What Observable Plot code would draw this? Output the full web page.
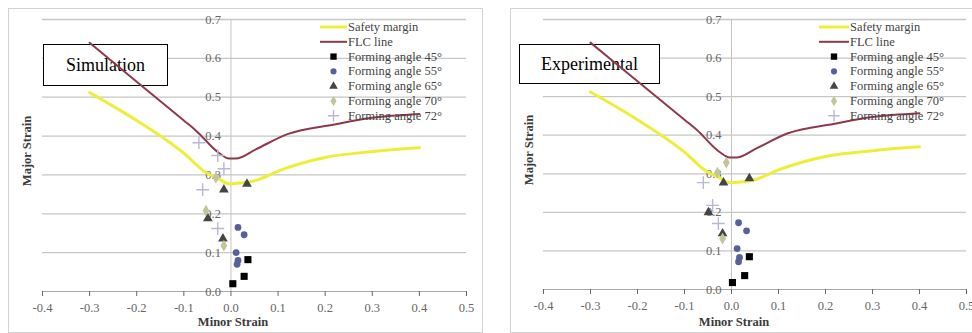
<!DOCTYPE html>
<html><head><meta charset="utf-8">
<script src="https://cdn.jsdelivr.net/npm/d3@7"></script>
<script src="https://cdn.jsdelivr.net/npm/@observablehq/plot@0.6"></script>
<style>
html,body{margin:0;padding:0;background:#fff;width:972px;height:333px;overflow:hidden;}
.panel{position:absolute;top:8px;height:325px;}
.frame{position:absolute;left:0;top:0;right:0;bottom:0;border:1px solid #d2d2d2;background:#fff;box-sizing:border-box;}
.layer{position:absolute;left:0;top:0;}
.box{position:absolute;border:1px solid #000;background:#fff;box-sizing:border-box;font-family:"Liberation Serif","DejaVu Serif","Times New Roman",serif;font-size:18px;display:flex;align-items:center;justify-content:center;color:#000;}
.xlab{position:absolute;font-weight:bold;font-size:12.5px;font-family:"Liberation Serif","DejaVu Serif","Times New Roman",serif;color:#3a3a3a;white-space:nowrap;transform:translate(-50%,-50%);}
.ylab{position:absolute;font-weight:bold;font-size:12.5px;font-family:"Liberation Serif","DejaVu Serif","Times New Roman",serif;color:#3a3a3a;white-space:nowrap;transform:translate(-50%,-50%) rotate(-90deg);}
.legend{position:absolute;}
</style>
</head><body>
<script>
// ---------- data ----------
const xTicks = [-0.4, -0.3, -0.2, -0.1, 0.0, 0.1, 0.2, 0.3, 0.4, 0.5];
const yTicks = [0.0, 0.1, 0.2, 0.3, 0.4, 0.5, 0.6, 0.7];
const yGrid = [0.1, 0.2, 0.3, 0.4, 0.5, 0.6, 0.7];

const flcMinor = [-0.3, -0.2, -0.1, -0.074, -0.026, -0.004, 0.01, 0.053, 0.12, 0.22, 0.30, 0.40];
const flcMajor = [0.64, 0.54, 0.44, 0.414, 0.357, 0.342, 0.342, 0.366, 0.405, 0.43, 0.447, 0.457];
const safetyMinor = [-0.3, -0.2, -0.1, -0.053, -0.026, -0.004, 0.02, 0.053, 0.1, 0.2, 0.3, 0.4];
const safetyMajor = [0.512, 0.44, 0.356, 0.306, 0.29, 0.277, 0.279, 0.286, 0.31, 0.345, 0.36, 0.37];

const seriesNames = ["Forming angle 45°", "Forming angle 55°", "Forming angle 65°", "Forming angle 70°", "Forming angle 72°"];

// Simulation panel [minor, major]
const sim45 = [[0.004, 0.02], [0.028, 0.039], [0.036, 0.082]];
const sim55 = [[0.015, 0.165], [0.028, 0.146], [0.011, 0.10], [0.015, 0.08], [0.013, 0.07]];
const sim65 = [[-0.015, 0.262], [0.034, 0.277], [-0.017, 0.136], [-0.049, 0.188]];
const sim70 = [[-0.032, 0.293], [-0.053, 0.208], [-0.015, 0.118]];
const sim72 = [[-0.068, 0.383], [-0.028, 0.35], [-0.06, 0.262], [-0.028, 0.162], [-0.015, 0.316]];

// Experimental panel [minor, major]
const exp45 = [[0.002, 0.018], [0.028, 0.036], [0.038, 0.085]];
const exp55 = [[0.015, 0.173], [0.032, 0.152], [0.012, 0.106], [0.017, 0.083], [0.015, 0.072]];
const exp65 = [[-0.017, 0.277], [0.038, 0.288], [-0.019, 0.145], [-0.049, 0.2]];
const exp70 = [[-0.011, 0.329], [-0.03, 0.303], [-0.019, 0.132]];
const exp72 = [[-0.06, 0.277], [-0.028, 0.171], [-0.04, 0.218]];

// ---------- styles ----------
const SAFETY = "#eeee3a", FLC = "#8c3a4a";
const seriesStyle = [
  {symbol: "square", fill: "#000000", r: 4},
  {symbol: "circle", fill: "#56609a", r: 3.4},
  {symbol: "triangle", fill: "#454545", r: 3.6},
  {symbol: "diamond", fill: "#c2c49a", r: 3.6},
  {symbol: "plus", stroke: "#bcb6d6", r: 4.2, strokeWidth: 1.4}
];
const FONT = "'Liberation Serif','DejaVu Serif','Times New Roman',serif";

const flc = d3.zip(flcMinor, flcMajor);
const safety = d3.zip(safetyMinor, safetyMajor);

function panel(cfg) {
  const wrap = document.createElement("div");
  wrap.className = "panel";
  wrap.style.left = cfg.left + "px";
  wrap.style.width = cfg.W + "px";
  document.body.appendChild(wrap);
  const frame = document.createElement("div");
  frame.className = "frame";
  wrap.appendChild(frame);

  const dims = {
    width: cfg.W, height: 325,
    marginLeft: cfg.m.l, marginRight: cfg.m.r, marginTop: cfg.m.t, marginBottom: cfg.m.b
  };

  const A = Plot.plot({
    ...dims,
    x: {domain: [-0.4, 0.5]},
    y: {domain: [0, 0.7], axis: null},
    style: {background: "transparent", fontFamily: FONT, fontSize: "12.5px", overflow: "visible"},
    marks: [
      Plot.ruleY(yGrid, {stroke: "#c6c6c6", strokeWidth: 1.3}),
      Plot.ruleX([0], {stroke: "#c4c4c4"}),
      Plot.ruleY([0], {stroke: "#a8a8a8"}),
      Plot.axisX(xTicks, {tickSize: 5, tickPadding: 7, tickFormat: d => d.toFixed(1), color: "#666", fontSize: 12.5, fontFamily: FONT, label: null}),
      Plot.text(yTicks, {x: 0, y: d => d, text: d => d.toFixed(1), textAnchor: "end", dx: -10, fill: "#666", fontSize: 12.5, fontFamily: FONT})
    ]
  });
  A.classList.add("layer");
  wrap.appendChild(A);

  const box = document.createElement("div");
  box.className = "box";
  box.style.left = cfg.box[0] + "px";
  box.style.top = cfg.box[1] + "px";
  box.style.width = cfg.box[2] + "px";
  box.style.height = cfg.box[3] + "px";
  box.textContent = cfg.title;
  wrap.appendChild(box);

  const dotMarks = cfg.series.map((s, i) => {
    const st = seriesStyle[i];
    return Plot.dot(s, {x: d => d[0], y: d => d[1], symbol: st.symbol, r: st.r,
      fill: st.fill || "none", stroke: st.stroke || "none", strokeWidth: st.strokeWidth || 1});
  });

  const B = Plot.plot({
    ...dims,
    x: {domain: [-0.4, 0.5], axis: null},
    y: {domain: [0, 0.7], axis: null},
    style: {background: "transparent", overflow: "visible"},
    marks: [
      Plot.line(safety, {x: d => d[0], y: d => d[1], stroke: SAFETY, strokeWidth: 3, curve: "monotone-x"}),
      Plot.line(flc, {x: d => d[0], y: d => d[1], stroke: FLC, strokeWidth: 2, curve: "monotone-x"}),
      ...dotMarks
    ]
  });
  B.classList.add("layer");
  wrap.appendChild(B);

  // legend
  const ns = "http://www.w3.org/2000/svg";
  const lg = document.createElementNS(ns, "svg");
  lg.setAttribute("class", "legend");
  lg.setAttribute("width", 170);
  lg.setAttribute("height", 120);
  lg.style.left = cfg.legend[0] + "px";
  lg.style.top = cfg.legend[1] + "px";
  const rowY = i => 9 + 14.8 * i;
  const x0 = cfg.legendLine[0], x1 = cfg.legendLine[1], xm = (x0 + x1) / 2, xt = x1 + 1;
  const entries = [
    {name: "Safety margin", line: SAFETY, w: 3},
    {name: "FLC line", line: FLC, w: 2},
    ...seriesNames.map((n, i) => ({name: n, sym: i}))
  ];
  const symMap = {square: d3.symbolSquare, circle: d3.symbolCircle, triangle: d3.symbolTriangle, diamond: d3.symbolDiamond, plus: d3.symbolPlus};
  entries.forEach((e, i) => {
    const y = rowY(i);
    if (e.line) {
      const l = document.createElementNS(ns, "line");
      l.setAttribute("x1", x0); l.setAttribute("x2", x1);
      l.setAttribute("y1", y); l.setAttribute("y2", y);
      l.setAttribute("stroke", e.line); l.setAttribute("stroke-width", e.w);
      lg.appendChild(l);
    } else {
      const st = seriesStyle[e.sym];
      const p = document.createElementNS(ns, "path");
      p.setAttribute("d", d3.symbol(symMap[st.symbol], Math.PI * st.r * st.r * 0.8)());
      p.setAttribute("transform", `translate(${xm},${y})`);
      p.setAttribute("fill", st.fill || "none");
      p.setAttribute("stroke", st.stroke || "none");
      if (st.strokeWidth) p.setAttribute("stroke-width", st.strokeWidth);
      lg.appendChild(p);
    }
    const t = document.createElementNS(ns, "text");
    t.setAttribute("x", xt); t.setAttribute("y", y);
    t.setAttribute("dominant-baseline", "central");
    t.setAttribute("font-family", FONT);
    t.setAttribute("font-size", "12.5px");
    t.setAttribute("fill", "#444");
    t.textContent = e.name;
    lg.appendChild(t);
  });
  wrap.appendChild(lg);

  const xl = document.createElement("div");
  xl.className = "xlab";
  xl.style.left = cfg.xlab[0] + "px"; xl.style.top = cfg.xlab[1] + "px";
  xl.textContent = "Minor Strain";
  wrap.appendChild(xl);

  const yl = document.createElement("div");
  yl.className = "ylab";
  yl.style.left = cfg.ylab[0] + "px"; yl.style.top = cfg.ylab[1] + "px";
  yl.textContent = "Major Strain";
  wrap.appendChild(yl);
}

panel({
  left: 8, W: 475, m: {l: 34, r: 17, t: 11, b: 42},
  title: "Simulation", box: [35, 36, 125, 42],
  legend: [300, 10], legendLine: [12, 39],
  xlab: [225, 314], ylab: [19, 143],
  series: [sim45, sim55, sim65, sim70, sim72]
});
panel({
  left: 510, W: 470, m: {l: 33, r: 14, t: 11, b: 44},
  title: "Experimental", box: [9, 36, 141, 40],
  legend: [300, 10], legendLine: [9, 39],
  xlab: [224, 314], ylab: [19, 142],
  series: [exp45, exp55, exp65, exp70, exp72]
});
</script>
</body></html>
